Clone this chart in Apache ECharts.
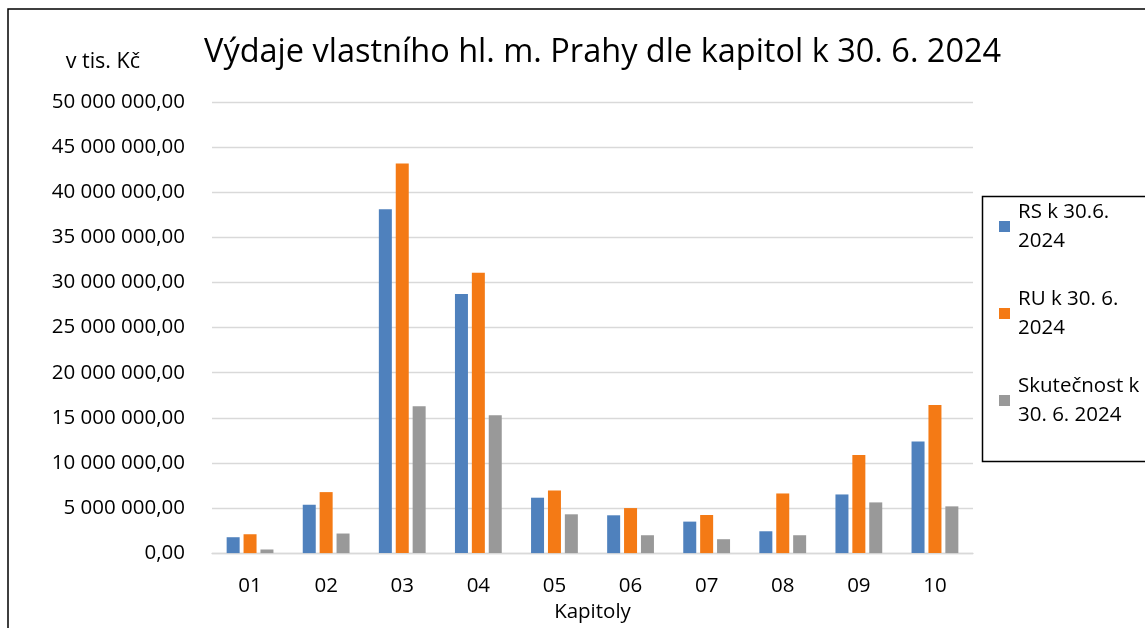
<!DOCTYPE html>
<html>
<head>
<meta charset="utf-8">
<script src="https://cdn.jsdelivr.net/npm/echarts@6/dist/echarts.min.js"></script>
<style>
html,body{margin:0;padding:0;background:#fff;}
#chart{width:1145px;height:628px;}
</style>
</head>
<body>
<div id="chart"></div>
<script>
const categories = ['01','02','03','04','05','06','07','08','09','10'];
const seriesNames = ['RS k 30.6.\n2024', 'RU k 30. 6.\n2024', 'Skutečnost k\n30. 6. 2024'];
const rsValues = [1760000, 5360000, 38100000, 28730000, 6140000, 4190000, 3490000, 2420000, 6500000, 12380000];
const ruValues = [2090000, 6760000, 43170000, 31080000, 6940000, 4990000, 4220000, 6610000, 10870000, 16420000];
const skutValues = [400000, 2170000, 16270000, 15280000, 4300000, 1980000, 1540000, 1980000, 5620000, 5180000];
const colors = ['#4f81bd', '#f47a15', '#999999'];

const FONT = 'Open Sans';

function fmt(v) {
  const parts = v.toFixed(2).split('.');
  const intPart = parts[0].replace(/\B(?=(\d{3})+(?!\d))/g, ' ');
  return intPart + ',' + parts[1];
}

const chart = echarts.init(document.getElementById('chart'), null, {renderer: 'canvas'});
const dataSets = [rsValues, ruValues, skutValues];
const option = {
  backgroundColor: '#fff',
  animation: false,
  textStyle: {fontFamily: FONT},
  title: {
    text: 'Výdaje vlastního hl. m. Prahy dle kapitol k 30. 6. 2024',
    left: 204, top: 36, padding: 0,
    textStyle: {fontFamily: FONT, fontSize: 32.5, fontWeight: 'normal', color: '#000'}
  },
  legend: {
    orient: 'vertical',
    left: 999, top: 183, padding: 0,
    itemWidth: 11, itemHeight: 11, itemGap: 0,
    icon: 'rect',
    data: seriesNames,
    textStyle: {fontFamily: FONT, fontSize: 20.5, color: '#000', lineHeight: 29, padding: [29, 0, 0, 3]}
  },
  grid: {left: 212, right: 172, top: 102, bottom: 72, containLabel: false},
  xAxis: {
    type: 'category',
    data: categories,
    name: 'Kapitoly',
    nameLocation: 'middle',
    nameGap: 57,
    nameTextStyle: {fontFamily: FONT, fontSize: 20.5, color: '#000', verticalAlign: 'middle'},
    axisLine: {lineStyle: {color: '#d9d9d9', width: 1.3}},
    axisTick: {show: false},
    axisLabel: {fontFamily: FONT, fontSize: 20.5, color: '#000', margin: 23}
  },
  yAxis: {
    type: 'value',
    min: 0, max: 50000000, interval: 5000000,
    name: 'v tis. Kč',
    nameLocation: 'end',
    nameGap: 40,
    nameTextStyle: {fontFamily: FONT, fontSize: 21.5, color: '#000', align: 'right', verticalAlign: 'middle', padding: [0, 72, 0, 0]},
    axisLine: {show: false},
    axisTick: {show: false},
    splitLine: {lineStyle: {color: '#d9d9d9', width: 1.3}},
    axisLabel: {fontFamily: FONT, fontSize: 20.5, color: '#000', margin: 27, formatter: fmt}
  },
  series: seriesNames.map((n, i) => ({
    name: n,
    type: 'bar',
    data: dataSets[i],
    barWidth: 13,
    barGap: '30%',
    itemStyle: {color: colors[i]}
  })),
  graphic: [
    {type: 'rect', shape: {x: 8, y: 9, width: 1300, height: 800}, style: {fill: 'none', stroke: '#000', lineWidth: 1.5}, silent: true},
    {type: 'rect', shape: {x: 982.5, y: 196.5, width: 300, height: 265}, style: {fill: 'none', stroke: '#000', lineWidth: 1.5}, silent: true}
  ]
};
chart.setOption(option);
</script>
</body>
</html>
